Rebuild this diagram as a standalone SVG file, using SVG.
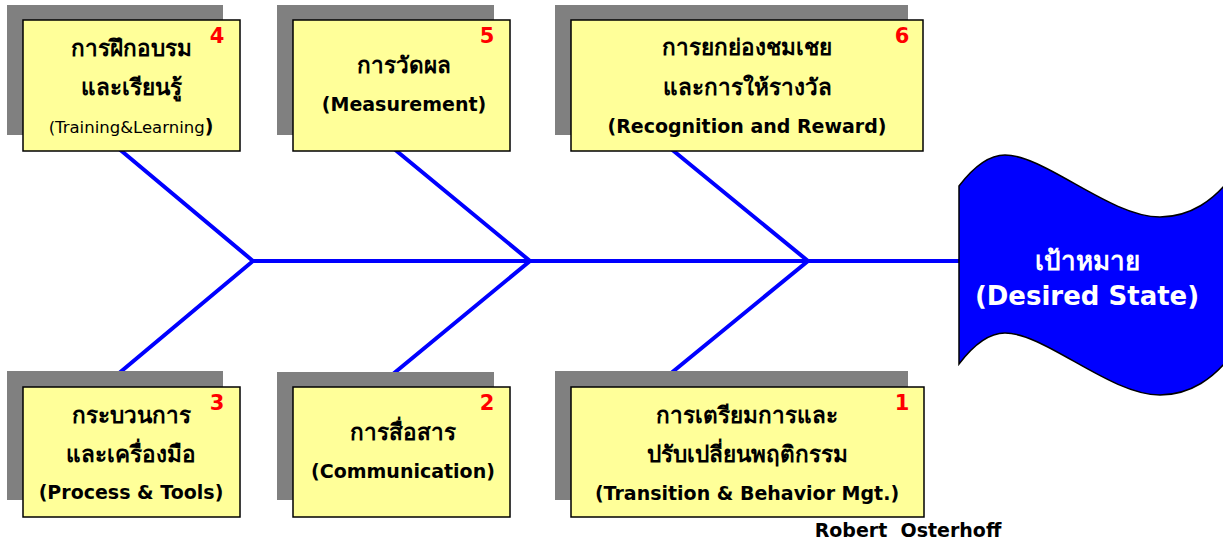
<svg xmlns="http://www.w3.org/2000/svg" width="1223" height="545" viewBox="0 0 1223 545">
<style>
.shadow{fill:#808080;}
.box{fill:#FFFF99;stroke:#000;stroke-width:1.5;}
.t{font-family:"DejaVu Sans","Noto Sans",Tahoma,sans-serif;font-weight:bold;font-size:19px;fill:#000;text-anchor:middle;}
.th{font-family:"DejaVu Sans","Noto Sans",Tahoma,sans-serif;font-weight:bold;font-size:22.5px;fill:#000;text-anchor:middle;}
.tn{font-family:"DejaVu Sans","Noto Sans",Tahoma,sans-serif;font-weight:normal;font-size:16.5px;fill:#000;text-anchor:middle;}
.num{font-family:"DejaVu Sans","Noto Sans",sans-serif;font-weight:bold;font-size:21px;fill:#FF0000;text-anchor:middle;}
.bone{stroke:#0000FF;stroke-width:4;fill:none;stroke-linecap:butt;}
.goal{font-family:"DejaVu Sans","Noto Sans",Tahoma,sans-serif;font-weight:bold;font-size:26px;fill:#FFF;text-anchor:middle;}
</style>
<rect width="1223" height="545" fill="#FFF"/>
<g id="connectors">
<line class="bone" x1="253" y1="261" x2="959" y2="261"/>
<polyline class="bone" points="118,148 253,261 118,374"/>
<polyline class="bone" points="393,148 530,261 393,374"/>
<polyline class="bone" points="670,148 808,261 670,374"/>
</g>
<g id="node4">
<rect class="shadow" x="7" y="5" width="216" height="130"/>
<rect class="box" x="23" y="20" width="217" height="131"/>
<text class="num" x="217" y="43">4</text>
<text class="th" x="131" y="56">การฝึกอบรม</text>
<text class="th" x="131" y="95">และเรียนรู้</text>
<text class="tn" x="131" y="133">(Training&amp;Learning<tspan font-weight="bold" font-size="19">)</tspan></text>
</g>
<g id="node5">
<rect class="shadow" x="277" y="5" width="217" height="130"/>
<rect class="box" x="293" y="20" width="217" height="131"/>
<text class="num" x="487" y="43">5</text>
<text class="th" x="404" y="73">การวัดผล</text>
<text class="t" x="404" y="111">(Measurement)</text>
</g>
<g id="node6">
<rect class="shadow" x="555" y="5" width="353" height="130"/>
<rect class="box" x="571" y="20" width="352" height="131"/>
<text class="num" x="902" y="43">6</text>
<text class="th" x="747" y="55">การยกย่องชมเชย</text>
<text class="th" x="747" y="95">และการให้รางวัล</text>
<text class="t" x="747" y="133">(Recognition and Reward)</text>
</g>
<g id="node3">
<rect class="shadow" x="7" y="371" width="216" height="129"/>
<rect class="box" x="23" y="387" width="217" height="130"/>
<text class="num" x="217" y="410">3</text>
<text class="th" x="131" y="423">กระบวนการ</text>
<text class="th" x="131" y="462">และเครื่องมือ</text>
<text class="t" x="131" y="499">(Process &amp; Tools)</text>
</g>
<g id="node2">
<rect class="shadow" x="277" y="372" width="217" height="128"/>
<rect class="box" x="293" y="387" width="217" height="130"/>
<text class="num" x="487" y="410">2</text>
<text class="th" x="403" y="440">การสื่อสาร</text>
<text class="t" x="403" y="478">(Communication)</text>
</g>
<g id="node1">
<rect class="shadow" x="555" y="371" width="353" height="129"/>
<rect class="box" x="571" y="387" width="353" height="130"/>
<text class="num" x="902" y="410">1</text>
<text class="th" x="747" y="423">การเตรียมการและ</text>
<text class="th" x="747" y="462">ปรับเปลี่ยนพฤติกรรม</text>
<text class="t" x="747" y="500">(Transition &amp; Behavior Mgt.)</text>
</g>
<g id="goal">
<path d="M959,186 C975,165 990,155 1005,155 C1045,155 1110,217 1160,217 C1190,217 1215,200 1232,176 L1232,354 C1215,378 1190,395 1160,395 C1110,395 1045,333 1005,333 C990,333 975,343 959,364 Z" fill="#0000FF" stroke="#000" stroke-width="1.5"/>
<text class="goal" x="1087" y="270" font-size="29.5">เป้าหมาย</text>
<text class="goal" x="1087" y="305">(Desired State)</text>
</g>
<text id="author" x="908" y="537" font-family="'DejaVu Sans','Noto Sans',sans-serif" font-weight="bold" font-size="19" text-anchor="middle" xml:space="preserve">Robert  Osterhoff</text>
</svg>
